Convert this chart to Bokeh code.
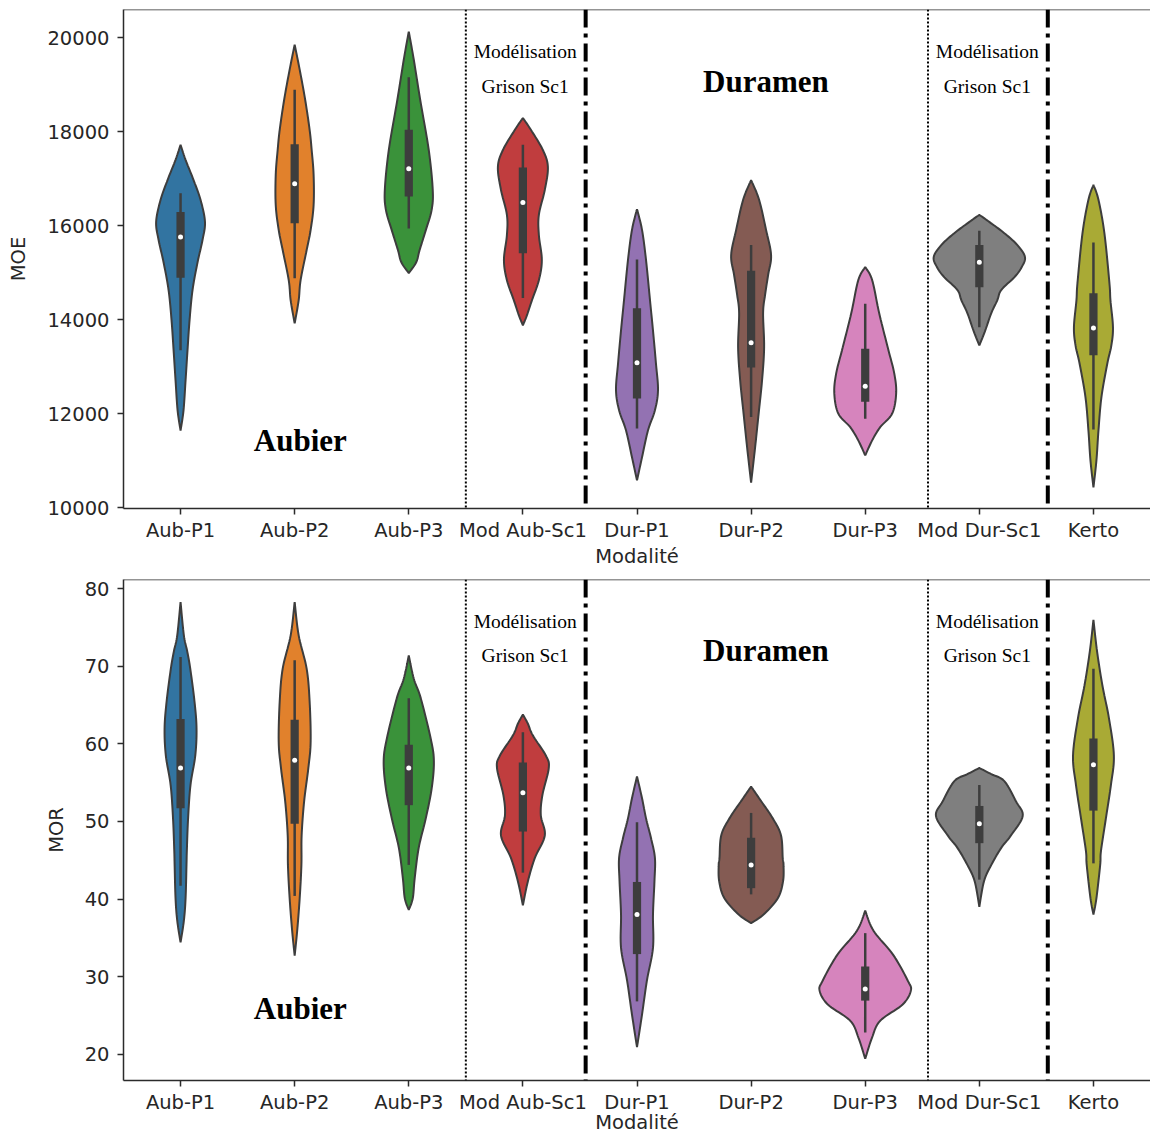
import numpy as np
from bokeh.plotting import figure
from bokeh.layouts import column
from bokeh.models import Range1d, FixedTicker, Span, Label
from bokeh.embed import file_html
from bokeh.resources import INLINE

# ---------------- data ----------------
categories = ["Aub-P1", "Aub-P2", "Aub-P3", "Mod Aub-Sc1", "Dur-P1",
              "Dur-P2", "Dur-P3", "Mod Dur-Sc1", "Kerto"]
colors = ["#3274a1", "#e1812c", "#3a923a", "#c03d3e", "#9372b2",
          "#845b53", "#d684bd", "#7f7f7f", "#a9aa35"]

# MOE violin outlines: value levels (top -> bottom) and half widths (category units)
moe_profile_y = [
    [17720, 17400, 16970, 16550, 16080, 15690, 15220, 14630, 13990, 13350, 12710, 12070, 11640],
    [19850, 19320, 18680, 18040, 17610, 17080, 16440, 15910, 15480, 14840, 14410, 13920],
    [20130, 19530, 18680, 17610, 16760, 16330, 15910, 15480, 15220, 14990],
    [18290, 18040, 17610, 17250, 16760, 16230, 15800, 15270, 14840, 14410, 14090, 13880],
    [16350, 15910, 15270, 14410, 13770, 13070, 12500, 12070, 11640, 11070, 10580],
    [16970, 16550, 15910, 15370, 14950, 14520, 14140, 13410, 12710, 12000, 11280, 10530],
    [15120, 14840, 14140, 13410, 12860, 12430, 12000, 11710, 11430, 11110],
    [16230, 16080, 15840, 15590, 15330, 15100, 14900, 14630, 14410, 14140, 13770, 13450],
    [16870, 16550, 15840, 14780, 14410, 13840, 13450, 13070, 12350, 11640, 11000, 10430],
]
moe_profile_w = [
    [0, .044, .114, .175, .214, .192, .149, .105, .079, .061, .044, .026, 0],
    [0, .044, .092, .131, .149, .166, .166, .14, .105, .052, .035, 0],
    [0, .044, .1, .175, .21, .2, .15, .095, .065, 0],
    [0, .07, .175, .219, .192, .14, .14, .166, .14, .079, .035, 0],
    [0, .044, .079, .114, .14, .166, .184, .157, .096, .044, 0],
    [0, .07, .131, .175, .149, .122, .105, .114, .096, .066, .035, 0],
    [0, .061, .122, .197, .254, .271, .236, .131, .061, 0],
    [0, .087, .219, .332, .4, .367, .306, .192, .157, .105, .052, 0],
    [0, .044, .096, .14, .149, .171, .157, .122, .07, .044, .026, 0],
]
moe_q1 = [14890, 16050, 16620, 15410, 12320, 12980, 12250, 14690, 13240]
moe_median = [15760, 16890, 17210, 16490, 13080, 13510, 12580, 15220, 13820]
moe_q3 = [16290, 17730, 18040, 17240, 14240, 15040, 13380, 15590, 14560]
moe_whisker_low = [13350, 14880, 15940, 14460, 11680, 11930, 11890, 13840, 11660]
moe_whisker_high = [16690, 18890, 19160, 17720, 15280, 15590, 14340, 15890, 15640]
moe_ticks = [10000, 12000, 14000, 16000, 18000, 20000]

# MOR violin outlines
mor_profile_y = [
    [78.3, 74.0, 71.9, 69.7, 65.5, 62.0, 58.5, 54.7, 50.4, 46.2, 44.4, 40.1, 37.2, 34.4],
    [78.3, 74.0, 69.7, 65.5, 60.3, 56.9, 52.6, 48.2, 44.4, 40.1, 35.9, 32.7],
    [71.4, 68.4, 65.9, 60.7, 57.8, 54.3, 50.4, 46.6, 42.7, 40.1, 38.6],
    [63.8, 62.6, 61.1, 58.5, 56.9, 53.4, 50.8, 48.2, 45.3, 42.3, 39.2],
    [55.8, 53.0, 50.4, 47.9, 45.3, 42.3, 38.0, 33.7, 29.5, 25.1, 20.9],
    [54.5, 53.0, 50.4, 48.2, 45.3, 44.4, 42.3, 40.1, 38.0, 36.9],
    [38.5, 35.9, 32.8, 29.5, 28.2, 26.4, 24.3, 22.1, 19.4],
    [56.9, 56.1, 55.2, 52.6, 50.7, 48.2, 46.6, 44.4, 42.3, 39.0],
    [76.0, 71.9, 67.5, 63.3, 58.5, 54.7, 50.4, 46.2, 44.4, 40.1, 38.0],
]
mor_profile_w = [
    [0, .029, .059, .085, .122, .14, .129, .087, .066, .055, .052, .044, .029, 0],
    [0, .035, .105, .131, .14, .12, .083, .061, .059, .044, .022, 0],
    [0, .044, .105, .192, .22, .201, .149, .087, .052, .035, 0],
    [0, .044, .087, .201, .227, .171, .157, .192, .105, .044, 0],
    [0, .044, .079, .122, .157, .153, .14, .14, .087, .044, 0],
    [0, .07, .19, .262, .277, .284, .28, .234, .109, 0],
    [0, .073, .245, .372, .4, .328, .131, .059, 0],
    [0, .105, .219, .321, .38, .277, .192, .105, .041, 0],
    [0, .032, .079, .136, .179, .153, .109, .066, .059, .026, 0],
]
mor_q1 = [51.7, 49.7, 52.1, 48.7, 32.9, 41.4, 26.9, 47.2, 51.4]
mor_median = [56.9, 57.9, 56.9, 53.7, 38.0, 44.4, 28.4, 49.7, 57.3]
mor_q3 = [63.2, 63.1, 59.9, 57.6, 42.2, 47.9, 31.3, 52.0, 60.7]
mor_whisker_low = [41.7, 40.4, 44.4, 43.4, 26.8, 40.6, 22.8, 42.5, 44.6]
mor_whisker_high = [71.2, 70.8, 65.9, 61.5, 49.9, 51.1, 35.6, 54.7, 69.7]
mor_ticks = [20, 30, 40, 50, 60, 70, 80]

separators_dotted = [2.5, 6.55]
separators_dashdot = [3.55, 7.6]

# ---------------- drawing helpers ----------------
TICK_FONT = "DejaVu Sans"
SERIF = "Liberation Serif"
EDGE = "#3d3d3d"
AXIS = "#2b2b2b"


def smooth_profile(ys, ws, n=10):
    P = np.column_stack([ys, ws]).astype(float)
    P = np.vstack([P[0], P, P[-1]])
    out = []
    ts = np.linspace(0, 1, n, endpoint=False)
    for i in range(1, len(P) - 2):
        p0, p1, p2, p3 = P[i - 1], P[i], P[i + 1], P[i + 2]
        for t in ts:
            out.append(0.5 * ((2 * p1) + (-p0 + p2) * t +
                              (2 * p0 - 5 * p1 + 4 * p2 - p3) * t * t +
                              (-p0 + 3 * p1 - 3 * p2 + p3) * t ** 3))
    out.append(P[-2])
    out = np.array(out)
    out[:, 1] = np.clip(out[:, 1], 0, None)
    return out[:, 0], out[:, 1]


def make_panel(height, yr, ticks, ylabel, prof_y, prof_w, q1, med, q3, wlo, whi,
               mb_top, mb_bottom, lab_standoff, xlab_standoff, texts):
    p = figure(width=1150, height=height, x_range=Range1d(-0.5, 8.5),
               y_range=Range1d(*yr), output_backend="svg", toolbar_location=None,
               min_border_left=123, min_border_right=0, min_border_top=mb_top,
               min_border_bottom=mb_bottom, outline_line_color=None)
    p.xgrid.grid_line_color = None
    p.ygrid.grid_line_color = None

    for ax in (p.xaxis[0], p.yaxis[0]):
        ax.axis_line_color = AXIS
        ax.axis_line_width = 1.5
        ax.major_tick_line_color = AXIS
        ax.major_tick_line_width = 1.5
        ax.major_tick_out = 6
        ax.major_tick_in = 0
        ax.minor_tick_line_color = None
        ax.major_label_text_font = TICK_FONT
        ax.major_label_text_font_size = "19.5px"
        ax.major_label_text_color = "#262626"
        ax.axis_label_text_font = TICK_FONT
        ax.axis_label_text_font_size = "19.5px"
        ax.axis_label_text_font_style = "normal"
        ax.axis_label_text_color = "#262626"

    p.xaxis.ticker = FixedTicker(ticks=list(range(len(categories))))
    p.xaxis.major_label_overrides = {i: c for i, c in enumerate(categories)}
    p.xaxis.axis_label = "Modalité"
    p.xaxis.major_label_standoff = lab_standoff
    p.xaxis.axis_label_standoff = xlab_standoff

    p.yaxis.ticker = FixedTicker(ticks=ticks)
    p.yaxis.axis_label = ylabel
    p.yaxis.major_label_standoff = 8
    p.yaxis.axis_label_standoff = 14

    # top spine only (right side is cut off in the original)
    p.add_layout(Span(location=yr[1], dimension="width", line_color=AXIS, line_width=1.5))

    xs_all, ys_all = [], []
    for i in range(len(categories)):
        yy, ww = smooth_profile(prof_y[i], prof_w[i])
        xs_all.append(list(np.concatenate([i + ww, (i - ww)[::-1]])))
        ys_all.append(list(np.concatenate([yy, yy[::-1]])))
    p.patches(xs_all, ys_all, fill_color=colors, line_color=EDGE, line_width=2)

    idx = list(range(len(categories)))
    p.segment(x0=idx, y0=wlo, x1=idx, y1=whi, line_color=EDGE, line_width=2.5)
    p.vbar(x=idx, width=0.072, bottom=q1, top=q3, fill_color=EDGE, line_color=None)
    p.scatter(idx, med, size=5, fill_color="white", line_color=None)

    for loc in separators_dotted:
        p.add_layout(Span(location=loc, dimension="height", line_color="black",
                          line_width=2, line_dash="2 2"))
    for loc in separators_dashdot:
        p.add_layout(Span(location=loc, dimension="height", line_color="black",
                          line_width=4, line_dash="18 6 4 6"))

    for (tx, ty, txt, size, style) in texts:
        p.add_layout(Label(x=tx, y=ty, text=txt, text_font=SERIF, text_font_size=size,
                           text_font_style=style, text_align="center",
                           text_baseline="middle", text_color="black"))
    return p


top_texts = [
    (3.02, 19700, "Modélisation", "19.5px", "normal"),
    (3.02, 18955, "Grison Sc1", "19.5px", "normal"),
    (7.07, 19700, "Modélisation", "19.5px", "normal"),
    (7.07, 18955, "Grison Sc1", "19.5px", "normal"),
    (5.13, 19060, "Duramen", "31px", "bold"),
    (1.05, 11430, "Aubier", "31px", "bold"),
]
bot_texts = [
    (3.02, 75.75, "Modélisation", "19.5px", "normal"),
    (3.02, 71.4, "Grison Sc1", "19.5px", "normal"),
    (7.07, 75.75, "Modélisation", "19.5px", "normal"),
    (7.07, 71.4, "Grison Sc1", "19.5px", "normal"),
    (5.13, 72.0, "Duramen", "31px", "bold"),
    (1.05, 25.9, "Aubier", "31px", "bold"),
]

p1 = make_panel(570, (9980, 20600), moe_ticks, "MOE", moe_profile_y, moe_profile_w,
                moe_q1, moe_median, moe_q3, moe_whisker_low, moe_whisker_high,
                9, 62, 4, 0, top_texts)
p2 = make_panel(566, (16.6, 81.2), mor_ticks, "MOR", mor_profile_y, mor_profile_w,
                mor_q1, mor_median, mor_q3, mor_whisker_low, mor_whisker_high,
                9, 56, 4, -6, bot_texts)

layout = column(p1, p2)
open("out.html", "w").write(file_html(layout, INLINE))
